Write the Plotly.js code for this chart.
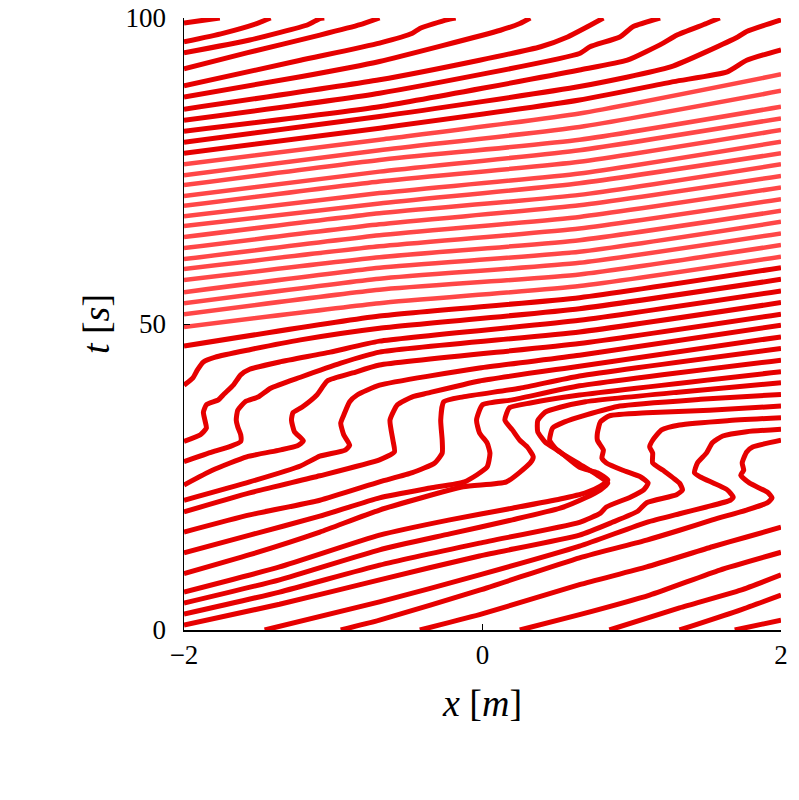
<!DOCTYPE html>
<html>
<head>
<meta charset="utf-8">
<script src="https://cdn.plot.ly/plotly-3.0.1.min.js"></script>
<style>body{margin:0;background:#fff}</style>
</head>
<body>
<div id="plot" style="width:799px;height:800px"></div>
<script>
// vehicle trajectories: position x [m] against time t [s]
const trajX = [
    [-2.00, -1.76],
    [-2.00, -1.74, -1.50, -1.42],
    [-2.00, -1.56, -1.17, -1.09, -1.06],
    [-2.00, -1.58, -1.09, -0.82, -0.69],
    [-2.00, -1.22, -0.69, -0.47, -0.42, -0.24, -0.18],
    [-2.00, -1.22, -0.69, 0.12, 0.25, 0.32],
    [-2.00, -0.69, -0.02, 0.39, 0.57, 0.69, 0.81],
    [-2.00, -0.69, 0.65, 0.72, 0.92, 1.01, 1.19],
    [-2.00, -0.69, 0.65, 0.97, 1.21, 1.30, 1.50, 1.59],
    [-2.00, -0.69, 0.65, 1.26, 1.71, 1.77, 2.00],
    [-2.00, -0.69, 0.65, 1.28, 1.64, 1.77, 2.00],
    [-2.00, -0.69, 0.65, 2.00],
    [-2.00, -0.69, 0.65, 2.00],
    [-2.00, -0.69, 0.65, 2.00],
    [-2.00, -0.69, 0.65, 2.00],
    [-2.00, -0.69, 0.65, 2.00],
    [-2.00, -0.69, 0.65, 2.00],
    [-2.00, -0.69, 0.65, 2.00],
    [-2.00, -0.69, 0.65, 2.00],
    [-2.00, -0.69, 0.65, 2.00],
    [-2.00, -0.69, 0.65, 2.00],
    [-2.00, -0.69, 0.65, 2.00],
    [-2.00, -0.69, 0.65, 2.00],
    [-2.00, -0.69, 0.65, 2.00],
    [-2.00, -0.69, 0.65, 2.00],
    [-2.00, -0.69, 0.65, 2.00],
    [-2.00, -0.69, 0.65, 2.00],
    [-2.00, -0.69, 0.65, 2.00],
    // stop-and-go part
    [-2.00, -1.94, -1.91, -1.87, -1.79, -1.56, -1.22, -0.69, 0.65, 2.00],
    [-2.00, -1.89, -1.85, -1.86, -1.87, -1.85, -1.77, -1.73, -1.67, -1.62, -1.56, -1.36, -1.02, -0.69, 0.65, 2.00],
    [-2.00, -1.81, -1.69, -1.62, -1.62, -1.64, -1.65, -1.64, -1.59, -1.50, -1.42, -1.22, -0.95, -0.69, 0.65, 2.00],
    [-2.00, -1.81, -1.58, -1.36, -1.24, -1.20, -1.26, -1.28, -1.27, -1.21, -1.11, -1.04, -0.87, -0.69, 0.65, 2.00],
    [-2.00, -1.56, -1.22, -1.09, -0.92, -0.89, -0.93, -0.95, -0.93, -0.89, -0.84, -0.69, -0.02, 0.65, 2.00],
    [-2.00, -1.56, -1.09, -0.69, -0.59, -0.60, -0.62, -0.57, -0.47, -0.37, -0.02, 0.65, 2.00],
    [-2.00, -1.56, -1.09, -0.69, -0.47, -0.32, -0.27, -0.27, -0.28, -0.26, -0.13, 0.25, 0.65, 2.00],
    [-2.00, -1.56, -1.09, -0.69, -0.35, -0.12, 0.03, 0.05, 0.03, -0.02, -0.04, 0.00, 0.20, 0.65, 2.00],
    [-2.00, -1.56, -1.09, -0.69, -0.13, 0.16, 0.32, 0.34, 0.30, 0.25, 0.20, 0.15, 0.18, 0.32, 0.65, 2.00],
    [-2.00, -1.36, -0.69, -0.22, 0.20, 0.52, 0.69, 0.79, 0.84, 0.77, 0.65, 0.52, 0.42, 0.37, 0.37, 0.42, 0.52, 0.69, 1.33, 2.00],
    [-2.00, -1.36, -0.69, -0.22, 0.20, 0.52, 0.69, 0.79, 0.84, 0.77, 0.65, 0.50, 0.45, 0.47, 0.55, 0.69, 0.92, 1.46, 2.00],
    [-2.00, -1.36, -0.69, -0.02, 0.65, 0.79, 0.83, 0.99, 1.08, 1.11, 1.06, 0.94, 0.83, 0.80, 0.81, 0.77, 0.77, 0.79, 0.85, 1.10, 1.52, 2.00],
    [-2.00, -1.36, -0.69, -0.02, 0.65, 0.87, 1.04, 1.10, 1.30, 1.34, 1.32, 1.21, 1.14, 1.14, 1.12, 1.14, 1.20, 1.32, 1.64, 2.00],
    [-1.46, -0.69, -0.02, 0.65, 1.10, 1.32, 1.50, 1.66, 1.68, 1.64, 1.46, 1.42, 1.44, 1.50, 1.54, 1.61, 1.77, 2.00],
    [-0.95, -0.69, -0.02, 0.65, 1.10, 1.32, 1.54, 1.77, 1.91, 1.94, 1.91, 1.79, 1.73, 1.75, 1.74, 1.77, 1.81, 2.00],
    [-0.42, -0.02, 0.65, 1.10, 1.54, 1.77, 2.00],
    [0.25, 0.65, 1.12, 1.59, 2.00],
    [0.85, 1.32, 1.73, 2.00],
    [1.32, 1.73, 2.00],
    [1.69, 2.00]
];
const trajT = [
    [99.2, 100],
    [96.1, 97.5, 99.2, 100],
    [94.3, 96.4, 98.9, 99.9, 100],
    [91.7, 94.3, 97.2, 98.9, 100],
    [88.9, 93.1, 95.9, 97.5, 98.3, 99.7, 100],
    [87.1, 90.4, 92.9, 98.0, 99.1, 100],
    [85.1, 89.9, 93.1, 95.3, 96.9, 98.4, 100],
    [83.3, 87.7, 94.2, 95.3, 96.9, 98.6, 100],
    [81.5, 85.5, 91.5, 93.1, 95.9, 97.2, 99.1, 100],
    [79.7, 83.9, 88.8, 92.0, 96.9, 97.8, 99.7],
    [77.9, 82.0, 86.6, 89.6, 91.2, 93.1, 94.8],
    [76.1, 80.1, 84.4, 90.8],
    [74.3, 78.4, 82.2, 88.1],
    [72.7, 76.8, 80.1, 85.5],
    [70.9, 74.9, 78.4, 83.6],
    [69.3, 73.3, 76.5, 81.7],
    [67.6, 71.4, 74.6, 79.8],
    [66.0, 69.7, 73.0, 77.9],
    [64.2, 68.1, 71.1, 76.1],
    [62.4, 66.3, 69.4, 74.2],
    [60.6, 64.5, 67.5, 72.3],
    [59.0, 62.7, 65.6, 70.4],
    [57.2, 60.9, 63.7, 68.5],
    [55.2, 59.2, 61.8, 66.7],
    [53.4, 57.4, 60.0, 64.8],
    [51.6, 55.6, 58.1, 62.9],
    [49.5, 53.4, 56.2, 61.0],
    [46.4, 51.3, 54.3, 59.2],
    [40.0, 41.2, 42.5, 43.8, 44.6, 45.8, 47.4, 49.3, 52.5, 57.3],
    [30.8, 31.9, 33.0, 34.3, 35.6, 36.8, 37.6, 38.6, 40.0, 41.7, 42.6, 43.8, 45.4, 47.2, 50.6, 55.4],
    [27.5, 29.1, 30.0, 30.8, 31.9, 33.2, 34.3, 35.9, 37.3, 38.1, 39.5, 41.3, 43.6, 45.4, 48.7, 53.5],
    [23.7, 26.1, 28.3, 29.4, 30.1, 30.9, 32.4, 34.3, 35.5, 36.4, 38.4, 40.7, 42.0, 43.3, 46.8, 51.6],
    [21.2, 24.2, 26.8, 28.4, 29.4, 30.2, 31.9, 33.8, 35.1, 37.3, 38.4, 40.0, 42.8, 44.9, 49.8],
    [19.3, 22.4, 25.2, 27.8, 29.1, 31.0, 34.3, 36.8, 38.1, 38.7, 40.7, 43.1, 47.9],
    [16.0, 18.8, 21.2, 24.2, 25.7, 27.3, 28.9, 31.0, 34.3, 37.3, 38.1, 39.5, 41.5, 46.0],
    [12.6, 15.5, 18.6, 21.6, 23.2, 24.2, 26.6, 28.9, 30.6, 32.2, 34.3, 36.8, 37.6, 39.9, 44.1],
    [9.2, 12.3, 16.0, 19.6, 23.4, 24.2, 27.3, 28.3, 29.9, 31.0, 32.7, 34.3, 36.3, 37.1, 38.4, 42.2],
    [6.2, 10.3, 15.5, 18.0, 19.9, 21.4, 22.4, 23.5, 24.5, 25.7, 26.6, 29.1, 30.7, 32.4, 34.2, 35.6, 36.4, 37.3, 38.9, 40.4],
    [4.4, 8.2, 13.1, 15.7, 18.0, 19.9, 21.6, 22.9, 24.0, 25.3, 27.1, 29.4, 31.0, 33.0, 34.0, 35.1, 36.6, 37.7, 38.5],
    [2.6, 6.2, 10.6, 14.2, 17.6, 19.1, 20.1, 21.7, 22.9, 24.0, 25.0, 26.1, 27.3, 28.1, 29.4, 31.0, 32.2, 34.0, 35.0, 35.5, 35.9, 36.6],
    [0.8, 4.2, 8.2, 12.1, 15.5, 17.6, 19.4, 20.8, 22.1, 22.9, 24.0, 26.1, 27.3, 28.9, 29.9, 31.0, 32.7, 33.5, 34.2, 34.7],
    [0.0, 4.6, 9.0, 13.7, 17.6, 19.0, 20.1, 21.2, 21.7, 22.9, 25.0, 25.7, 27.3, 28.9, 30.6, 31.7, 32.4, 32.8],
    [0.0, 1.6, 6.5, 11.8, 14.7, 16.3, 18.0, 19.6, 20.8, 21.6, 22.5, 24.0, 25.3, 26.1, 27.3, 29.1, 29.9, 31.0],
    [0.0, 2.5, 7.4, 10.3, 13.6, 15.2, 16.8],
    [0.0, 2.5, 5.7, 9.8, 12.7],
    [0.0, 3.6, 6.5, 9.0],
    [0.0, 3.3, 5.7],
    [0.0, 1.6]
];

// the smooth free-flow band is drawn in a lighter red
const lightFrom = 11;
const lightTo = 26;

const traces = trajX.map((xs, i) => {
    const light = i >= lightFrom && i <= lightTo;
    return {
        x: xs,
        y: trajT[i],
        type: 'scatter',
        mode: 'lines',
        line: {
            color: light ? 'rgba(255,25,25,0.8)' : '#e60000',
            width: light ? 4.5 : 5,
            shape: 'spline',
            smoothing: 0.5
        },
        hoverinfo: 'skip',
        showlegend: false
    };
});

const tickFont = { family: 'Liberation Serif, serif', size: 27, color: '#000' };
const titleFont = { family: 'Liberation Serif, serif', size: 38, color: '#000' };

const layout = {
    width: 799,
    height: 800,
    margin: { l: 184, r: 18, t: 18, b: 170 },
    paper_bgcolor: '#fff',
    plot_bgcolor: '#fff',
    xaxis: {
        range: [-2, 2],
        tickvals: [-2, 0, 2],
        ticks: 'inside',
        ticklen: 6,
        tickcolor: '#000',
        showline: true,
        linecolor: '#000',
        linewidth: 1.5,
        showgrid: false,
        zeroline: false,
        tickfont: tickFont,
        title: { text: '<i>x</i> [<i>m</i>]', font: titleFont, standoff: 20 }
    },
    yaxis: {
        range: [0, 100],
        tickvals: [0, 50, 100],
        ticks: 'inside',
        ticklen: 6,
        tickcolor: '#000',
        showline: true,
        linecolor: '#000',
        linewidth: 1.5,
        showgrid: false,
        zeroline: false,
        tickfont: tickFont,
        ticklabelstandoff: 11,
        title: { text: '<i>t</i> [<i>s</i>]', font: titleFont, standoff: 4 }
    }
};

Plotly.newPlot('plot', traces, layout, { displayModeBar: false, staticPlot: true });
</script>
</body>
</html>
